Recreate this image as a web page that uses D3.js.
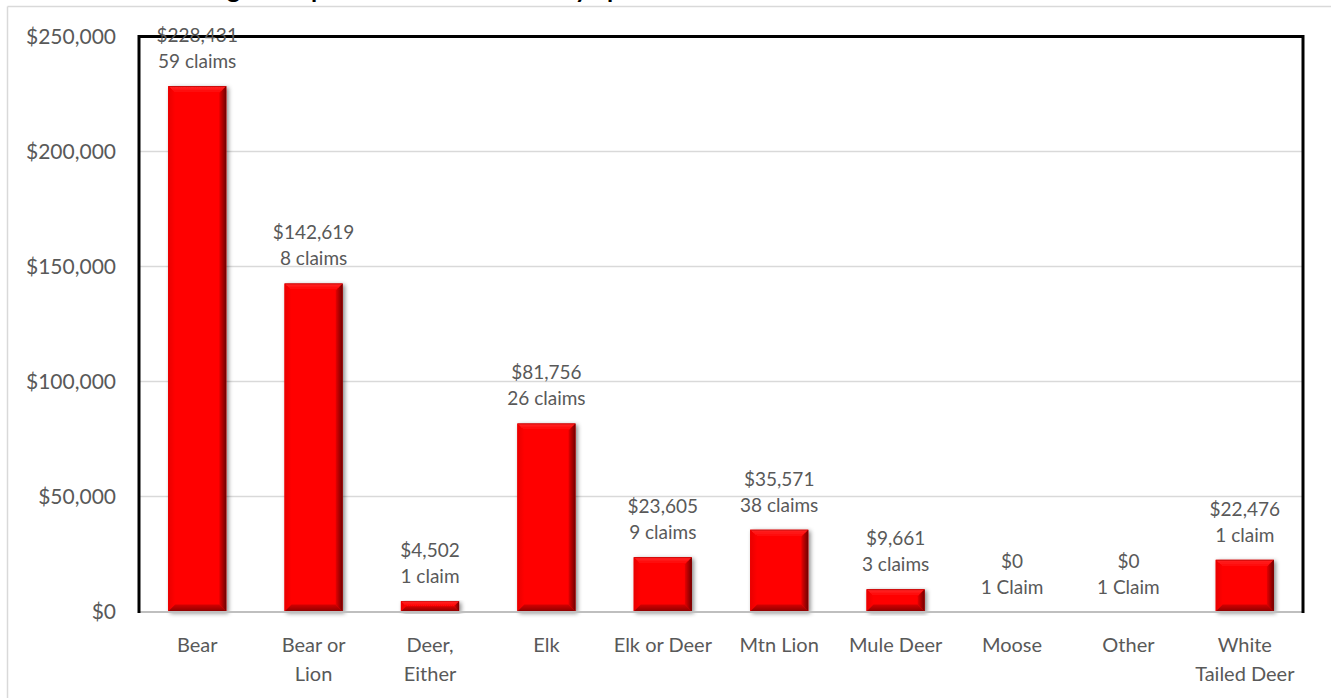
<!DOCTYPE html>
<html>
<head>
<meta charset="utf-8">
<script src="https://cdn.jsdelivr.net/npm/d3@7"></script>
<style>
  html, body { margin: 0; padding: 0; background: #fff; overflow: hidden; }
  svg { display: block; }
  text { font-family: Lato, "Open Sans", sans-serif; }
</style>
</head>
<body>
<svg id="chart" width="1331" height="698"></svg>
<script>
// Damage compensation paid, by species
const categories = ["Bear", "Bear or Lion", "Deer, Either", "Elk", "Elk or Deer",
                    "Mtn Lion", "Mule Deer", "Moose", "Other", "White Tailed Deer"];
const categoryLines = [["Bear"], ["Bear or", "Lion"], ["Deer,", "Either"], ["Elk"], ["Elk or Deer"],
                       ["Mtn Lion"], ["Mule Deer"], ["Moose"], ["Other"], ["White", "Tailed Deer"]];
const amounts = [228431, 142619, 4502, 81756, 23605, 35571, 9661, 0, 0, 22476];
const claimLabels = ["59 claims", "8 claims", "1 claim", "26 claims", "9 claims",
                     "38 claims", "3 claims", "1 Claim", "1 Claim", "1 claim"];
const yTicks = [0, 50000, 100000, 150000, 200000, 250000];
const chartTitle = "Damage Compensation Claims Paid by Species";

const svg = d3.select("#chart");
const W = 1331, H = 698;
const plot = { left: 139, right: 1303, top: 36.5, bottom: 611.5 };
const textColor = "#595959";
const money = d3.format("$,");

const data = categories.map((c, i) => ({
  category: c, lines: categoryLines[i], amount: amounts[i], claims: claimLabels[i]
}));

const x = d3.scaleBand().domain(categories)
  .range([plot.left, plot.right]).paddingInner(0.5).paddingOuter(0.25);
const y = d3.scaleLinear().domain([0, 250000]).range([plot.bottom, plot.top]);

// defs: shadow and bevel gradients
const defs = svg.append("defs");
const shadow = defs.append("filter").attr("id", "barShadow")
  .attr("x", "-30%").attr("y", "-10%").attr("width", "160%").attr("height", "130%");
shadow.append("feDropShadow").attr("dx", 2).attr("dy", 1.5).attr("stdDeviation", 2.2)
  .attr("flood-color", "#000").attr("flood-opacity", 0.45);

function gradient(id, horizontal, stops) {
  const g = defs.append("linearGradient").attr("id", id)
    .attr("x1", 0).attr("y1", 0).attr("x2", horizontal ? 1 : 0).attr("y2", horizontal ? 0 : 1);
  stops.forEach(([o, c]) => g.append("stop").attr("offset", o).attr("stop-color", c));
}
gradient("bevelTop", false, [[0, "#b80000"], [0.2, "#ff2020"], [1, "#ff0000"]]);
gradient("bevelRight", true, [[0, "#e60000"], [1, "#6e0000"]]);
gradient("bevelBottom", false, [[0, "#d40000"], [1, "#8c0000"]]);
gradient("bevelLeft", true, [[0, "#e80000"], [1, "#ff0000"]]);

// outer chart frame
svg.append("line").attr("x1", 7.5).attr("x2", W).attr("y1", 6.5).attr("y2", 6.5)
  .attr("stroke", "#d9d9d9").attr("stroke-width", 1.5);
svg.append("line").attr("x1", 7.5).attr("x2", 7.5).attr("y1", 6.5).attr("y2", H)
  .attr("stroke", "#d9d9d9").attr("stroke-width", 1.5);

// title (runs off the top edge; only its descenders remain in view)
svg.append("text").attr("x", 162).attr("y", -2.5)
  .attr("font-size", 25).attr("font-weight", "bold").attr("fill", "#000")
  .text(chartTitle);

// gridlines
svg.append("g").selectAll("line").data(yTicks.filter(d => d > 0 && d < 250000)).join("line")
  .attr("x1", plot.left).attr("x2", plot.right)
  .attr("y1", d => y(d)).attr("y2", d => y(d))
  .attr("stroke", "#d9d9d9").attr("stroke-width", 1.5);

// y axis labels
const yAxis = svg.append("g").attr("transform", `translate(${plot.left},0)`)
  .call(d3.axisLeft(y).tickValues(yTicks).tickFormat(money).tickSize(0).tickPadding(23));
yAxis.select(".domain").remove();
yAxis.selectAll("text").attr("font-size", 21).attr("fill", textColor)
  .style("font-family", "Lato, sans-serif");

// bars with bevelled faces
const bars = svg.append("g").selectAll("g.bar").data(data.filter(d => d.amount > 0)).join("g")
  .attr("class", "bar").attr("filter", "url(#barShadow)");

bars.each(function(d) {
  const g = d3.select(this);
  const x0 = x(d.category), w = x.bandwidth();
  const y0 = y(d.amount), y1 = y(0), h = y1 - y0;
  const b = Math.min(7, w / 2, h / 2);
  const x1 = x0 + w;
  g.append("rect").attr("x", x0).attr("y", y0).attr("width", w).attr("height", h).attr("fill", "#ff0000");
  const poly = (pts, fill) => g.append("polygon").attr("points", pts.map(p => p.join(",")).join(" ")).attr("fill", fill);
  poly([[x0, y0], [x1, y0], [x1 - b, y0 + b], [x0 + b, y0 + b]], "url(#bevelTop)");
  poly([[x0, y0], [x0 + b, y0 + b], [x0 + b, y1 - b], [x0, y1]], "url(#bevelLeft)");
  poly([[x0, y1], [x0 + b, y1 - b], [x1 - b, y1 - b], [x1, y1]], "url(#bevelBottom)");
  poly([[x1, y0], [x1, y1], [x1 - b, y1 - b], [x1 - b, y0 + b]], "url(#bevelRight)");
});

// x axis baseline
svg.append("line").attr("x1", plot.left).attr("x2", plot.right)
  .attr("y1", plot.bottom + 0.5).attr("y2", plot.bottom + 0.5)
  .attr("stroke", "#bfbfbf").attr("stroke-width", 2);

// plot frame: top, left and right edges
svg.append("path")
  .attr("d", `M${plot.left},${plot.bottom + 1.5} V${plot.top} H${plot.right} V${plot.bottom + 1.5}`)
  .attr("fill", "none").attr("stroke", "#000").attr("stroke-width", 3);

// value labels
const labels = svg.append("g").selectAll("text").data(data).join("text")
  .attr("text-anchor", "middle").attr("font-size", 19).attr("fill", textColor)
  .attr("x", d => x(d.category) + x.bandwidth() / 2);
labels.append("tspan").attr("x", d => x(d.category) + x.bandwidth() / 2)
  .attr("y", d => y(d.amount) - 44).text(d => money(d.amount));
labels.append("tspan").attr("x", d => x(d.category) + x.bandwidth() / 2)
  .attr("y", d => y(d.amount) - 18).text(d => d.claims);

// category labels
const cat = svg.append("g").selectAll("text").data(data).join("text")
  .attr("text-anchor", "middle").attr("font-size", 20).attr("fill", textColor);
cat.selectAll("tspan").data(d => d.lines.map(l => ({ l, c: d.category }))).join("tspan")
  .attr("x", d => x(d.c) + x.bandwidth() / 2)
  .attr("y", (d, i) => 652 + i * 29)
  .text(d => d.l);
</script>
</body>
</html>
